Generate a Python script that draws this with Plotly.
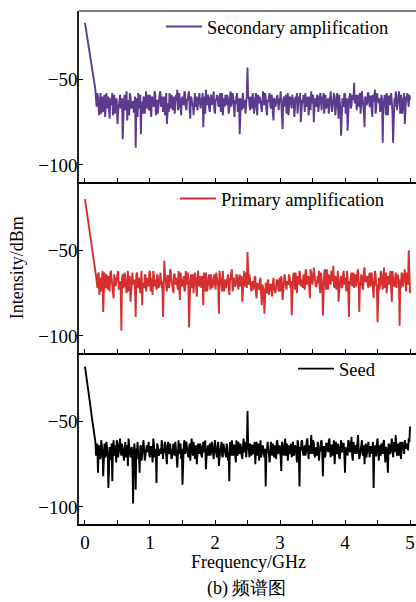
import numpy as np
import plotly.graph_objects as go

# Frequency grid of the analyser: 0 to 5 GHz in 20 MHz bins (even bins),
# plus the interleaved 10 MHz offset bins from 0.17 GHz onward (odd bins)
freq_start = 0.0
freq_step = 0.02
n_bins = 251
odd_start = 0.17
n_odd = 242

# Spectra (dBm) for each amplification stage, even bins
secondary_dbm = [
    -17, -22, -27, -32, -37, -42, -47, -51,
    -56, -66, -60, -71, -58, -64, -69, -59, -62, -67,
    -60, -73, -63, -58, -66, -70, -61, -76, -64, -59,
    -65, -85, -62, -68, -57, -64, -71, -60, -66, -63,
    -69, -90, -61, -58, -67, -82, -63, -60, -70, -57,
    -64, -68, -59, -72, -62, -66, -58, -63, -70, -61,
    -57, -65, -69, -60, -62, -76, -64, -58, -67, -61,
    -63, -70, -59, -56, -66, -62, -71, -60, -65, -58,
    -68, -62, -57, -73, -61, -64, -59, -66, -60, -63,
    -58, -67, -62, -78, -60, -56, -65, -61, -69, -59,
    -64, -57, -70, -62, -60, -66, -58, -63, -71, -61,
    -59, -65, -62, -68, -57, -63, -60, -72, -64, -58,
    -66, -82, -61, -59, -67, -62, -65, -43, -60, -68,
    -63, -58, -70, -61, -66, -59, -64, -62, -69, -57,
    -65, -60, -71, -63, -58, -67, -61, -74, -62, -64,
    -59, -68, -63, -66, -79, -60, -62, -70, -58, -65,
    -61, -67, -64, -72, -60, -58, -66, -63, -75, -62,
    -59, -69, -62, -65, -71, -60, -57, -64, -75, -61,
    -66, -60, -63, -58, -68, -62, -70, -59, -65, -61,
    -64, -57, -69, -62, -60, -67, -58, -73, -63, -83,
    -61, -66, -59, -64, -80, -62, -58, -65, -60, -52,
    -63, -68, -59, -62, -70, -57, -65, -78, -61, -64,
    -58, -66, -60, -72, -63, -56, -67, -61, -64, -69,
    -59, -87, -62, -65, -58, -71, -60, -63, -66, -87,
    -61, -57, -68, -62, -64, -59, -70, -63, -76, -60,
    -58, -66, -62,
]
secondary_odd_dbm = [
    -62, -58, -67, -63, -70, -60, -65, -72, -58, -64,
    -68, -61, -65, -71, -59, -66, -63, -69, -60, -67,
    -61, -70, -59, -64, -74, -62, -58, -67, -63, -69,
    -60, -66, -72, -62, -59, -65, -70, -61, -64, -67,
    -59, -63, -68, -60, -66, -57, -71, -62, -65, -58,
    -66, -60, -63, -71, -58, -64, -69, -61, -59, -68,
    -60, -65, -62, -68, -58, -70, -61, -64, -57, -66,
    -62, -59, -67, -60, -65, -71, -58, -63, -68, -60,
    -64, -61, -58, -66, -70, -62, -59, -67, -61, -65,
    -60, -68, -62, -59, -65, -61, -69, -58, -64, -66,
    -63, -59, -70, -61, -66, -58, -64, -62, -60, -69,
    -61, -64, -68, -58, -62, -70, -59, -61, -65, -60,
    -67, -61, -64, -58, -71, -62, -60, -66, -59, -63,
    -58, -68, -62, -60, -65, -59, -70, -61, -66, -60,
    -64, -61, -57, -69, -62, -66, -59, -63, -71, -60,
    -65, -59, -61, -67, -63, -70, -60, -58, -66, -64,
    -62, -58, -66, -60, -64, -68, -61, -59, -67, -63,
    -59, -69, -61, -65, -60, -58, -64, -67, -62, -70,
    -60, -63, -66, -58, -71, -61, -64, -59, -68, -62,
    -65, -58, -70, -61, -63, -60, -67, -59, -62, -64,
    -59, -62, -66, -58, -64, -61, -69, -60, -65, -58,
    -63, -60, -68, -59, -62, -70, -58, -64, -61, -66,
    -62, -66, -59, -71, -63, -60, -65, -58, -69, -62,
    -66, -60, -63, -57, -70, -61, -64, -58, -66, -61,
    -63, -59,
]

primary_dbm = [
    -20, -25, -30, -35, -40, -45, -50, -55,
    -60, -68, -64, -76, -66, -70, -86, -63, -72, -67,
    -65, -74, -62, -70, -78, -66, -69, -63, -73, -68,
    -97, -64, -71, -66, -75, -62, -69, -80, -65, -70,
    -67, -89, -63, -72, -68, -65, -82, -70, -64, -74,
    -66, -71, -62, -69, -76, -64, -68, -73, -65, -70,
    -63, -72, -89, -56, -67, -74, -65, -70, -62, -69,
    -75, -64, -68, -71, -62, -79, -66, -70, -65, -73,
    -67, -63, -95, -69, -72, -64, -70, -66, -77, -62,
    -71, -68, -65, -82, -70, -63, -74, -67, -69, -64,
    -72, -66, -70, -63, -68, -87, -65, -71, -62, -74,
    -67, -69, -64, -76, -66, -61, -72, -68, -70, -65,
    -73, -64, -69, -80, -66, -71, -63, -51, -70, -67,
    -74, -68, -71, -65, -78, -70, -73, -66, -82, -72,
    -87, -69, -75, -67, -72, -70, -77, -66, -73, -71,
    -68, -74, -70, -65, -79, -71, -67, -73, -69, -64,
    -72, -88, -66, -70, -63, -75, -68, -62, -71, -67,
    -64, -73, -61, -69, -66, -78, -63, -70, -60, -68,
    -71, -65, -62, -75, -67, -88, -64, -69, -61, -73,
    -66, -70, -63, -59, -72, -67, -64, -80, -69, -65,
    -71, -62, -68, -74, -66, -89, -70, -63, -67, -72,
    -64, -69, -61, -86, -70, -66, -73, -60, -68, -65,
    -72, -63, -69, -67, -78, -62, -71, -92, -66, -70,
    -64, -73, -60, -68, -75, -65, -70, -62, -80, -67,
    -71, -63, -69, -66, -94, -72, -64, -68, -61, -74,
    -67, -50, -75,
]
primary_odd_dbm = [
    -65, -72, -63, -69, -74, -62, -68, -71, -64, -73,
    -70, -63, -67, -75, -64, -71, -66, -62, -69, -74,
    -66, -72, -63, -70, -68, -74, -65, -71, -63, -67,
    -73, -64, -70, -66, -75, -62, -69, -72, -65, -68,
    -70, -63, -74, -66, -62, -71, -67, -64, -72, -69,
    -66, -68, -75, -63, -70, -65, -72, -61, -67, -73,
    -64, -70, -66, -73, -68, -63, -71, -65, -74, -62,
    -70, -66, -72, -64, -68, -75, -63, -71, -67, -69,
    -65, -72, -68, -63, -74, -66, -70, -64, -73, -67,
    -69, -64, -73, -67, -71, -62, -68, -74, -66, -70,
    -72, -65, -70, -68, -63, -74, -66, -71, -64, -69,
    -67, -71, -65, -73, -62, -69, -72, -66, -64, -70,
    -70, -73, -66, -75, -69, -72, -68, -76, -70, -74,
    -71, -74, -68, -76, -70, -73, -69, -72, -75, -67,
    -72, -66, -74, -69, -71, -64, -73, -68, -70, -66,
    -68, -71, -63, -73, -67, -65, -70, -64, -69, -72,
    -67, -63, -70, -65, -72, -61, -68, -66, -64, -71,
    -65, -69, -72, -63, -70, -66, -61, -73, -67, -64,
    -70, -62, -68, -71, -65, -73, -62, -69, -66, -72,
    -64, -70, -66, -62, -73, -68, -65, -71, -63, -69,
    -71, -63, -67, -70, -64, -72, -62, -68, -66, -70,
    -65, -71, -63, -72, -68, -64, -70, -66, -73, -62,
    -69, -66, -72, -63, -70, -67, -65, -73, -62, -70,
    -66, -72, -64, -70, -67, -63, -71, -65, -69, -63,
    -70, -66,
]

seed_dbm = [
    -18, -23, -28, -34, -40, -46, -52, -58,
    -62, -68, -80, -64, -71, -66, -82, -63, -70, -67,
    -89, -65, -72, -85, -61, -69, -74, -64, -67, -60,
    -70, -66, -73, -62, -68, -76, -64, -71, -65, -98,
    -63, -90, -67, -72, -80, -64, -69, -61, -73, -66,
    -68, -62, -71, -65, -74, -63, -67, -86, -64, -70,
    -66, -61, -72, -68, -64, -75, -62, -69, -66, -71,
    -63, -70, -65, -77, -61, -67, -72, -87, -64, -69,
    -62, -68, -66, -73, -60, -70, -65, -67, -75, -63,
    -69, -64, -71, -62, -67, -78, -65, -70, -63, -68,
    -66, -72, -61, -69, -64, -76, -67, -62, -71, -65,
    -68, -63, -73, -85, -66, -61, -70, -64, -74, -67,
    -62, -69, -65, -72, -60, -67, -71, -44, -66, -63,
    -70, -64, -68, -75, -62, -66, -73, -61, -69, -65,
    -71, -88, -63, -67, -74, -62, -70, -66, -64, -72,
    -61, -68, -65, -79, -63, -70, -60, -67, -73, -64,
    -66, -71, -62, -69, -65, -74, -63, -88, -67, -61,
    -70, -64, -68, -60, -72, -65, -58, -69, -63, -71,
    -66, -62, -73, -67, -61, -82, -65, -70, -63, -68,
    -60, -71, -64, -67, -75, -62, -69, -65, -72, -61,
    -67, -63, -80, -66, -70, -62, -68, -59, -73, -65,
    -64, -69, -58, -72, -66, -61, -70, -75, -63, -68,
    -62, -71, -65, -67, -89, -64, -70, -60, -73, -66,
    -63, -69, -61, -74, -66, -80, -64, -68, -60, -71,
    -65, -58, -70, -63, -67, -72, -62, -69, -61, -66,
    -64, -60, -53,
]
seed_odd_dbm = [
    -70, -63, -67, -72, -61, -68, -65, -71, -62, -69,
    -66, -72, -63, -68, -70, -64, -61, -71, -65, -68,
    -63, -69, -66, -71, -64, -60, -70, -67, -73, -68,
    -70, -66, -62, -69, -65, -73, -63, -67, -70, -64,
    -62, -70, -65, -68, -60, -71, -66, -63, -69, -67,
    -69, -64, -67, -62, -71, -66, -68, -63, -72, -65,
    -68, -62, -71, -64, -69, -63, -66, -70, -61, -67,
    -66, -71, -63, -68, -65, -62, -72, -64, -69, -66,
    -63, -70, -66, -68, -61, -71, -64, -67, -70, -62,
    -69, -64, -67, -71, -62, -68, -65, -70, -63, -67,
    -71, -65, -68, -62, -70, -66, -64, -69, -61, -70,
    -66, -63, -70, -65, -68, -62, -66, -64, -71, -67,
    -64, -69, -62, -67, -70, -63, -66, -71, -64, -68,
    -66, -70, -62, -69, -65, -68, -63, -71, -67, -62,
    -69, -64, -71, -62, -68, -65, -70, -63, -66, -69,
    -63, -67, -70, -64, -68, -61, -71, -65, -62, -68,
    -66, -70, -62, -67, -64, -69, -63, -61, -70, -65,
    -70, -64, -67, -62, -69, -65, -71, -63, -66, -62,
    -67, -64, -70, -61, -66, -68, -63, -71, -65, -68,
    -63, -70, -65, -68, -61, -67, -64, -70, -62, -69,
    -68, -63, -66, -70, -62, -69, -64, -67, -71, -63,
    -67, -65, -69, -62, -68, -70, -63, -66, -64, -70,
    -66, -62, -68, -65, -71, -63, -69, -64, -67, -62,
    -68, -63, -66, -70, -62, -67, -64, -69, -65, -63,
    -67, -62,
]

series_names = ["Secondary amplification", "Primary amplification", "Seed"]
series_colors = ["#5C3A8E", "#D62F2F", "#000000"]
x_ticks = [0, 1, 2, 3, 4, 5]

freq_even = freq_start + freq_step * np.arange(n_bins)
freq_odd = odd_start + freq_step * np.arange(n_odd)


def merge_bins(even_vals, odd_vals):
    f = np.concatenate([freq_even, freq_odd])
    v = np.concatenate([np.asarray(even_vals, float), np.asarray(odd_vals, float)])
    order = np.argsort(f, kind="stable")
    return np.round(f[order], 4), v[order]


SERIF = "Liberation Serif"

fig = go.Figure()

# panel layout: top -> secondary, middle -> primary, bottom -> seed
panels = [
    (secondary_dbm, secondary_odd_dbm, "x3", "y3", "legend", 0.969, 0.243),
    (primary_dbm, primary_odd_dbm, "x2", "y2", "legend2", 0.6335, 0.285),
    (seed_dbm, seed_odd_dbm, "x", "y", "legend3", 0.302, 0.635),
]
for (ev, od, xa, ya, lg, ly, lx), name, color in zip(panels, series_names, series_colors):
    fx, fy = merge_bins(ev, od)
    fig.add_trace(go.Scatter(
        x=fx, y=fy, mode="lines", name=name, xaxis=xa, yaxis=ya,
        line=dict(color=color, width=1.9), legend=lg, showlegend=True,
    ))

xmin, xmax = -0.092, 5.092
ymin, ymax = -110, -10
third = 1 / 3
domains = {"": [0, third], "2": [third, 2 * third], "3": [2 * third, 1]}

tickvals = [v / 2 for v in range(0, 11)]
ticktext_bottom = [str(int(v)) if v in x_ticks else "" for v in tickvals]

for suffix, dom in domains.items():
    bottom = suffix == ""
    fig.layout["xaxis" + suffix] = dict(
        domain=[0, 1], anchor="y" + suffix, range=[xmin, xmax],
        showline=True, linecolor="black", linewidth=2,
        ticks="inside", ticklen=4, tickwidth=1, tickcolor="black",
        tickvals=tickvals, ticktext=ticktext_bottom if bottom else [""] * len(tickvals),
        showticklabels=bottom, showgrid=False, zeroline=False,
        tickfont=dict(family=SERIF, size=19, color="black"),
    )
    fig.layout["yaxis" + suffix] = dict(
        domain=dom, anchor="x" + suffix, range=[ymin, ymax],
        showline=True, linecolor="#222222", linewidth=1.5,
        ticks="inside", ticklen=4, tickwidth=1, tickcolor="black",
        tickvals=[-50, -100], showgrid=False, zeroline=False,
        ticklabelstandoff=-4,
        tickfont=dict(family=SERIF, size=19, color="black"),
    )

legend_common = dict(
    xanchor="left", yanchor="middle", bgcolor="rgba(0,0,0,0)",
    font=dict(family=SERIF, size=18.5, color="black"), borderwidth=0,
    itemwidth=36,
)
fig.update_layout(
    legend=dict(x=panels[0][6], y=panels[0][5], **legend_common),
    legend2=dict(x=panels[1][6], y=panels[1][5], **legend_common),
    legend3=dict(x=panels[2][6], y=panels[2][5], **legend_common),
)

# frame line along the top of the upper panel
fig.add_shape(type="line", xref="paper", yref="paper", x0=0, x1=1, y0=1, y1=1,
              line=dict(color="#555555", width=1.5))

fig.add_annotation(text="Intensity/dBm", xref="paper", yref="paper",
                   x=-0.185, y=0.5, textangle=-90, showarrow=False,
                   xanchor="center", yanchor="middle",
                   font=dict(family=SERIF, size=18, color="black"))
fig.add_annotation(text="Frequency/GHz", xref="paper", yref="paper",
                   x=0.502, y=-0.074, showarrow=False,
                   xanchor="center", yanchor="middle",
                   font=dict(family=SERIF, size=18, color="black"))
fig.add_annotation(text="(b) 频谱图", xref="paper", yref="paper",
                   x=0.499, y=-0.125, showarrow=False,
                   xanchor="center", yanchor="middle",
                   font=dict(family=SERIF, size=18, color="black"))

fig.update_layout(
    width=416, height=602,
    margin=dict(l=79, r=0, t=11, b=78),
    paper_bgcolor="white", plot_bgcolor="white",
    font=dict(family=SERIF, color="black"),
)

fig.write_html("out.html")
